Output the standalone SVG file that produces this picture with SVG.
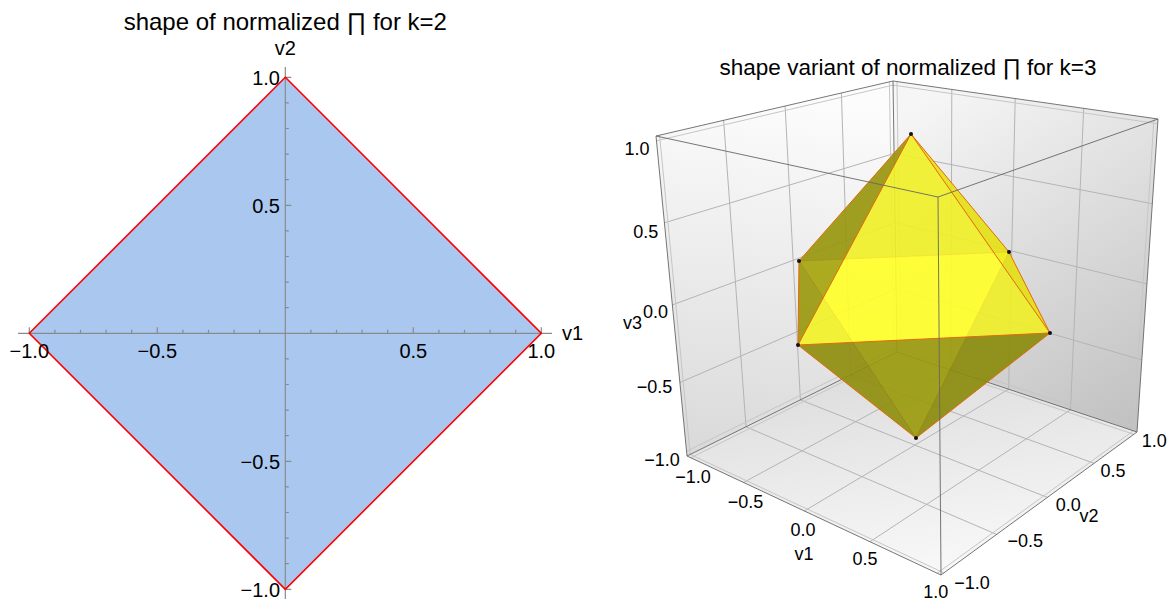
<svg xmlns="http://www.w3.org/2000/svg" width="1168" height="604" viewBox="0 0 1168 604">
<defs>
<style>
.t{font-family:'Liberation Sans',Arial,sans-serif;fill:#000}
.l20{font-size:20px}
.r18{font-size:18px}
.ttl{font-size:24px}
.ttr{font-size:22.5px}
.ax{stroke:#8a8a8a;stroke-width:1.2;fill:none}
.grid{stroke:#b4b4b4;stroke-width:1;fill:none}
.inner{stroke:#c6c6c6;stroke-width:1;fill:none}
.box{stroke:#666;stroke-width:0.9;fill:none}
.back{fill-opacity:0.7;stroke:none}
.front{fill-opacity:0.7;stroke:none}
.edge{stroke:#e8690f;stroke-width:1;fill:none;stroke-linecap:round}
.bedge{stroke:#d0600c;stroke-width:0.8;fill:none;stroke-opacity:0.6}
.vtx{fill:#111}
</style>
<linearGradient id="gL" gradientUnits="userSpaceOnUse" x1="760" y1="95" x2="720" y2="450">
<stop offset="0" stop-color="#fcfcfc"/><stop offset="1" stop-color="#dadada"/>
</linearGradient>
<linearGradient id="gR" gradientUnits="userSpaceOnUse" x1="930" y1="95" x2="1140" y2="430">
<stop offset="0" stop-color="#f6f6f6"/><stop offset="1" stop-color="#c0c0c0"/>
</linearGradient>
<linearGradient id="gF" gradientUnits="userSpaceOnUse" x1="905" y1="355" x2="935" y2="570">
<stop offset="0" stop-color="#dcdcdc"/><stop offset="1" stop-color="#f8f8f8"/>
</linearGradient>
</defs>
<rect width="1168" height="604" fill="#fff"/>

<g id="left-plot">
<text class="t ttl" x="285.3" y="30" text-anchor="middle">shape of normalized ∏ for k=2</text>
<polygon id="diamond-fill" points="285.3,77.3 541.3,333.3 285.3,589.3 29.3,333.3" fill="#aac7ef"/>
<g id="left-axes">
<path class="ax" d="M18 333.3H552M285.3 67V599"/>
<path class="ax" d="M54.9 333.3v-3.5M80.5 333.3v-3.5M106.1 333.3v-3.5M131.7 333.3v-3.5M182.9 333.3v-3.5M208.5 333.3v-3.5M234.1 333.3v-3.5M259.7 333.3v-3.5M310.9 333.3v-3.5M336.5 333.3v-3.5M362.1 333.3v-3.5M387.7 333.3v-3.5M438.9 333.3v-3.5M464.5 333.3v-3.5M490.1 333.3v-3.5M515.7 333.3v-3.5M29.3 333.3v-6M157.3 333.3v-6M413.3 333.3v-6M541.3 333.3v-6M285.3 102.9h3.5M285.3 128.5h3.5M285.3 154.1h3.5M285.3 179.7h3.5M285.3 230.9h3.5M285.3 256.5h3.5M285.3 282.1h3.5M285.3 307.7h3.5M285.3 358.9h3.5M285.3 384.5h3.5M285.3 410.1h3.5M285.3 435.7h3.5M285.3 486.9h3.5M285.3 512.5h3.5M285.3 538.1h3.5M285.3 563.7h3.5M285.3 77.3h6M285.3 205.3h6M285.3 461.3h6M285.3 589.3h6"/>
</g>
<polygon id="diamond-edge" points="285.3,77.3 541.3,333.3 285.3,589.3 29.3,333.3" fill="none" stroke="#ff0000" stroke-width="1.6"/>
<g id="left-labels" class="t l20">
<text x="285.3" y="55" text-anchor="middle">v2</text>
<text x="562" y="340">v1</text>
<text x="280" y="85" text-anchor="end">1.0</text>
<text x="280" y="213" text-anchor="end">0.5</text>
<text x="280" y="469" text-anchor="end">−0.5</text>
<text x="280" y="597" text-anchor="end">−1.0</text>
<text x="29.3" y="357.5" text-anchor="middle">−1.0</text>
<text x="157.3" y="357.5" text-anchor="middle">−0.5</text>
<text x="413.3" y="357.5" text-anchor="middle">0.5</text>
<text x="541.3" y="357.5" text-anchor="middle">1.0</text>
</g>
</g>

<g id="right-plot">
<text class="t ttr" x="908" y="75" text-anchor="middle">shape variant of normalized ∏ for k=3</text>
<g id="walls">
<polygon points="656,136 893,81 897,352 687,456" fill="url(#gL)"/>
<polygon points="893,81 1158,119 1137,432 897,352" fill="url(#gR)"/>
<polygon points="687,456 897,352 1137,432 941,575" fill="url(#gF)"/>
</g>
<g id="face-grids">
<path class="grid" d="M746,426.8L723.6,120.3M800.4,399.9L785.1,106M850.5,375L841.4,93M679.9,382.5L896.1,288.8M672.4,304.9L895.1,222.7M664.4,222.8L894.1,153.5"/>
<path class="grid" d="M950.9,370L951.8,89.4M1008.6,389.2L1015.2,98.5M1070.5,409.8L1083.7,108.3M896.1,288.8L1141.8,359.9M895.1,222.7L1146.9,283.9M894.1,153.5L1152.3,203.7"/>
<path class="grid" d="M743.5,482.5L950.9,370M804.3,511L1008.6,389.2M870,541.7L1070.5,409.8M746,426.8L996.6,534.4M800.4,399.9L1047.4,497.4M850.5,375L1094.1,463.3"/>
<path class="inner" d="M656.5,140.8L893.1,85.1M686.5,451.2L896.9,347.9M659.6,135.2L690.2,454.4M889.4,81.8L893.9,353.6M893.1,85.1L1157.7,123.7M896.9,347.9L1137.3,427.3M897,81.6L900.6,353.2M1154,118.4L1133.4,430.8M690.8,457.8L900.6,353.2M937.2,573.2L1133.4,430.8M690.2,454.4L943.9,572.9M893.9,353.6L1133.1,434.1"/>
</g>
<g id="box-back-edges">
<path class="box" d="M656,136L893,81L1158,119M893,81L897,352M687,456L897,352L1137,432"/>
</g>
<g id="octahedron">
<polygon class="back" points="799,261 911,134 1009,252" fill="#bebe14"/>
<polygon class="back" points="799,261 1009,252 916,438" fill="#ffff14"/>
<polygon class="back" points="1050,333 916,438 1009,252" fill="#b9b914"/>
<polygon class="back" points="799,261 916,438 798,345" fill="#c8c814"/>
<path class="bedge" d="M799,261L1009,252M1009,252L916,438M799,261L916,438"/>
<polygon class="front" points="1050,333 911,134 798,345" fill="#ffff2d"/>
<polygon class="front" points="799,261 798,345 911,134" fill="#8c8a0a"/>
<polygon class="front" points="1050,333 1009,252 911,134" fill="#f0eb14"/>
<polygon class="front" points="1050,333 798,345 916,438" fill="#7c7c0a"/>
<path class="edge" d="M911,134L799,261M911,134L798,345M911,134L1009,252M911,134L1050,333M799,261L798,345M798,345L1050,333M1050,333L1009,252M798,345L916,438M1050,333L916,438"/>
<g class="vtx">
<circle cx="911" cy="134" r="2"/><circle cx="799" cy="261" r="2"/><circle cx="798" cy="345" r="2"/>
<circle cx="1009" cy="252" r="2"/><circle cx="1050" cy="333" r="2"/><circle cx="916" cy="438" r="2"/>
</g>
</g>
<g id="box-front-edges">
<path class="box" d="M656,136L938,197L1158,119M938,197L941,575M656,136L687,456M1158,119L1137,432M687,456L941,575L1137,432"/>
</g>
<g id="right-labels" class="t r18">
<text x="637" y="154.5" text-anchor="middle">1.0</text>
<text x="645.8" y="237.7" text-anchor="middle">0.5</text>
<text x="655.5" y="318.2" text-anchor="middle">0.0</text>
<text x="642" y="328.5" text-anchor="end">v3</text>
<text x="654.5" y="393.2" text-anchor="middle">−0.5</text>
<text x="662" y="466" text-anchor="middle">−1.0</text>
<text x="693" y="483.2" text-anchor="middle">−1.0</text>
<text x="745.5" y="508.2" text-anchor="middle">−0.5</text>
<text x="803" y="535.8" text-anchor="middle">0.0</text>
<text x="804" y="559.8" text-anchor="middle">v1</text>
<text x="865" y="564.8" text-anchor="middle">0.5</text>
<text x="935.8" y="598.2" text-anchor="middle">1.0</text>
<text x="972" y="589.2" text-anchor="middle">−1.0</text>
<text x="1025.3" y="547.2" text-anchor="middle">−0.5</text>
<text x="1068.3" y="510.5" text-anchor="middle">0.0</text>
<text x="1089" y="521.5" text-anchor="middle">v2</text>
<text x="1113" y="476.5" text-anchor="middle">0.5</text>
<text x="1154.3" y="447.2" text-anchor="middle">1.0</text>
</g>
</g>
</svg>
